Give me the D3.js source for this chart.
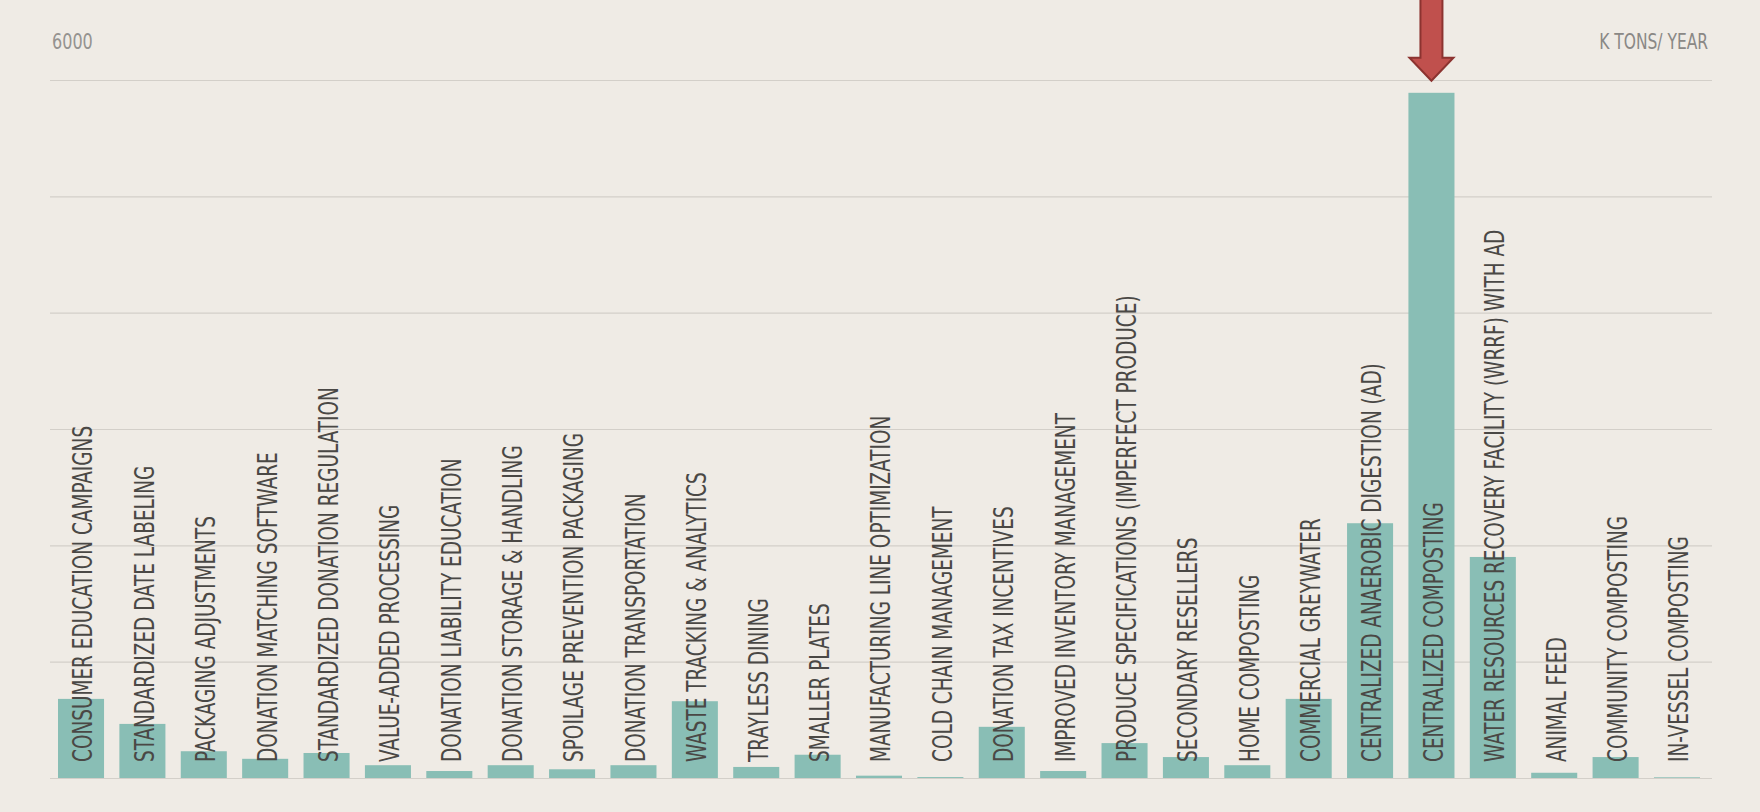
<!DOCTYPE html>
<html>
<head>
<meta charset="utf-8">
<script src="https://cdn.jsdelivr.net/npm/d3@7/dist/d3.min.js"></script>
<style>
body { margin: 0; background: #efebe5; }
text { font-family: 'Liberation Sans Narrow', 'DejaVu Sans Condensed', 'Roboto', sans-serif; }
</style>
</head>
<body>
<svg id="chart"></svg>
<script>
'use strict';

var categories = [
    'CONSUMER EDUCATION CAMPAIGNS', 'STANDARDIZED DATE LABELING', 'PACKAGING ADJUSTMENTS',
    'DONATION MATCHING SOFTWARE', 'STANDARDIZED DONATION REGULATION', 'VALUE-ADDED PROCESSING',
    'DONATION LIABILITY EDUCATION', 'DONATION STORAGE & HANDLING', 'SPOILAGE PREVENTION PACKAGING',
    'DONATION TRANSPORTATION', 'WASTE TRACKING & ANALYTICS', 'TRAYLESS DINING', 'SMALLER PLATES',
    'MANUFACTURING LINE OPTIMIZATION', 'COLD CHAIN MANAGEMENT', 'DONATION TAX INCENTIVES',
    'IMPROVED INVENTORY MANAGEMENT', 'PRODUCE SPECIFICATIONS (IMPERFECT PRODUCE)', 'SECONDARY RESELLERS',
    'HOME COMPOSTING', 'COMMERCIAL GREYWATER', 'CENTRALIZED ANAEROBIC DIGESTION (AD)',
    'CENTRALIZED COMPOSTING', 'WATER RESOURCES RECOVERY FACILITY (WRRF) WITH AD', 'ANIMAL FEED',
    'COMMUNITY COMPOSTING', 'IN-VESSEL COMPOSTING'
];
var values = [680, 465, 230, 165, 215, 110, 60, 110, 75, 110, 660, 95, 200, 20, 8, 440, 60, 300, 180, 110, 680, 2190, 5890, 1900, 45, 180, 6];
var y_ticks = [0, 1000, 2000, 3000, 4000, 5000, 6000];
var unit_label = 'K TONS/ YEAR';
var highlighted = 'CENTRALIZED COMPOSTING';

var width = 1760;
var height = 812;

var svg = d3.select('#chart');
svg.attr('width', width).attr('height', height);

svg.append('rect').attr('width', width).attr('height', height).attr('fill', '#efebe5');

var x = d3.scaleBand().domain(categories).range([58, 1700]).paddingInner(0.25).paddingOuter(0);
var y = d3.scaleLinear().domain([0, 6000]).range([778, 80]);

// gridlines
var grid = svg.append('g').attr('transform', 'translate(50,0)')
    .call(d3.axisLeft(y).tickValues(y_ticks).tickSize(-1662).tickFormat(''));
grid.select('.domain').remove();
grid.selectAll('.tick line').attr('stroke', '#d3cfc9').attr('stroke-width', 1.2);

svg.append('text').attr('transform', 'translate(52,49) scale(0.85,1)').attr('fill', '#959390')
    .style('font-size', '21px').text(d3.max(y_ticks));

svg.append('text').attr('transform', 'translate(1708,49) scale(0.82,1)').attr('text-anchor', 'end').attr('fill', '#8a8885')
    .style('font-size', '21px').text(unit_label);

svg.selectAll('.bar').data(categories).enter().append('rect').attr('class', 'bar')
    .attr('x', function (d) { return x(d); })
    .attr('width', x.bandwidth())
    .attr('y', function (d, i) { return y(values[i]); })
    .attr('height', function (d, i) { return y(0) - y(values[i]); })
    .attr('fill', '#89beb5');

svg.selectAll('.bar-label').data(categories).enter().append('text').attr('class', 'bar-label')
    .attr('transform', function (d) {
        return 'translate(' + (x(d) + x.bandwidth() / 2 + 2) + ',762) rotate(-90) scale(0.79,1)';
    })
    .attr('dy', '0.36em')
    .attr('fill', '#4a4845')
    .style('font-size', '26px')
    .text(function (d) { return d; });

// arrow pointing at the highlighted bar
var cx = x(highlighted) + x.bandwidth() / 2;
var tip = y(values[categories.indexOf(highlighted)]) - 12;
var arrow = d3.path();
arrow.moveTo(cx - 11, -4);
arrow.lineTo(cx + 11, -4);
arrow.lineTo(cx + 11, tip - 23);
arrow.lineTo(cx + 22, tip - 23);
arrow.lineTo(cx, tip);
arrow.lineTo(cx - 22, tip - 23);
arrow.lineTo(cx - 11, tip - 23);
arrow.closePath();
svg.append('path').attr('d', arrow.toString()).attr('fill', '#c0504d').attr('stroke', '#8c3330').attr('stroke-width', 2);
</script>
</body>
</html>
